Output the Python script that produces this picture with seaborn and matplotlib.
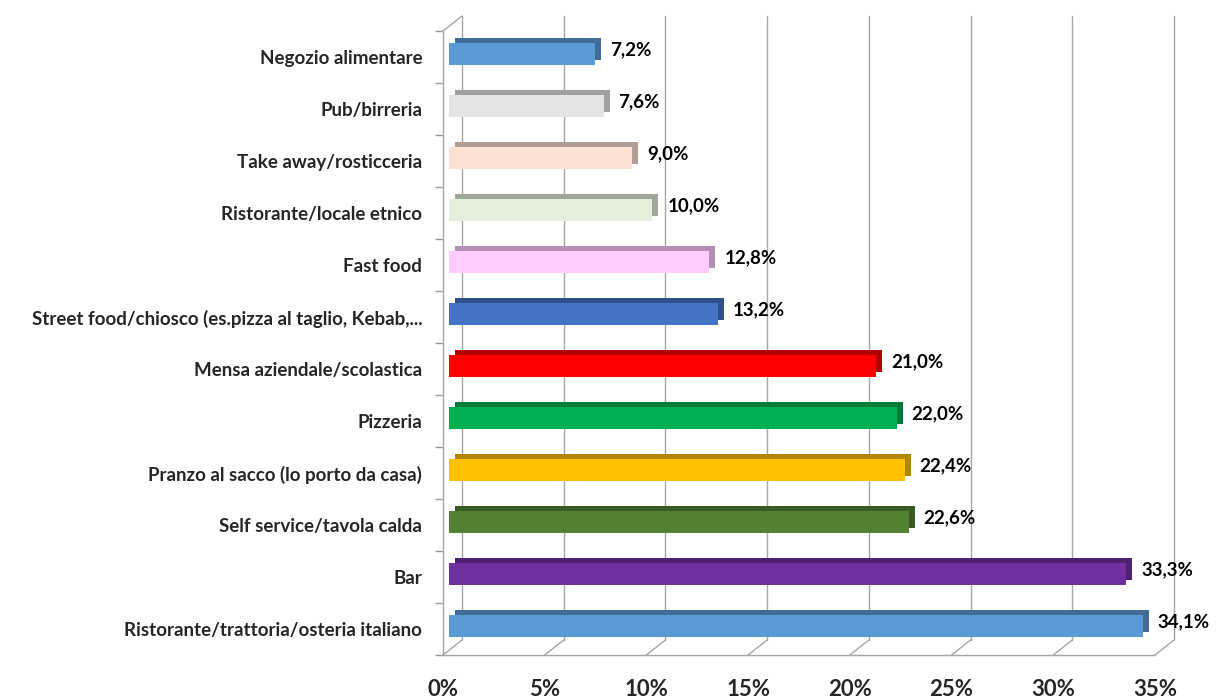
import numpy as np
import pandas as pd
import matplotlib
matplotlib.use("Agg")
import matplotlib.pyplot as plt
import matplotlib.transforms as mtransforms
import matplotlib.colors as mcolors
import seaborn as sns

categories = [
    "Negozio alimentare",
    "Pub/birreria",
    "Take away/rosticceria",
    "Ristorante/locale etnico",
    "Fast food",
    "Street food/chiosco (es.pizza al taglio, Kebab,...",
    "Mensa aziendale/scolastica",
    "Pizzeria",
    "Pranzo al sacco (lo porto da casa)",
    "Self service/tavola calda",
    "Bar",
    "Ristorante/trattoria/osteria italiano",
]
values = [7.2, 7.6, 9.0, 10.0, 12.8, 13.2, 21.0, 22.0, 22.4, 22.6, 33.3, 34.1]
colors = ["#5B9BD5", "#E4E4E4", "#FBE2D5", "#E2EFDA", "#FFCCFF", "#4472C4",
          "#FF0000", "#00B050", "#FFC000", "#548235", "#7030A0", "#5B9BD5"]
xticks = [0, 5, 10, 15, 20, 25, 30, 35]
xticklabels = ["0%", "5%", "10%", "15%", "20%", "25%", "30%", "35%"]

df = pd.DataFrame({"cat": categories, "val": values})

sns.set_theme(style="white")
plt.rcParams["font.family"] = ["Lato", "DejaVu Sans"]

fig = plt.figure(figsize=(12.18, 7.0), dpi=100)
ax = fig.add_axes([443 / 1218, 1 - 655 / 700, 712 / 1218, 624 / 700])

def darker(c, f=0.7):
    r, g, b = mcolors.to_rgb(c)
    return (r * f, g * f, b * f)

pal_dark = dict(zip(categories, [darker(c) for c in colors]))
pal = dict(zip(categories, colors))

# 3D-like depth face (shifted darker copy)
sns.barplot(data=df, x="val", y="cat", hue="cat", palette=pal_dark, legend=False,
            orient="h", width=0.44, ax=ax, saturation=1)
shift_back = mtransforms.ScaledTranslation(12 / 100, 8 / 100, fig.dpi_scale_trans)
n_back = len(ax.patches)
for p in ax.patches:
    p.set_transform(ax.transData + shift_back)
    p.set_edgecolor("none")
    p.set_zorder(2.9)

sns.barplot(data=df, x="val", y="cat", hue="cat", palette=pal, legend=False,
            orient="h", width=0.44, ax=ax, saturation=1)
shift_front = mtransforms.ScaledTranslation(6 / 100, 3 / 100, fig.dpi_scale_trans)
for p in ax.patches[n_back:]:
    p.set_transform(ax.transData + shift_front)
    p.set_edgecolor("none")
    p.set_zorder(3)

# value labels
for i, v in enumerate(values):
    ax.annotate(f"{v:.1f}".replace(".", ",") + "%", xy=(v, i), xycoords="data",
                xytext=(15, 5), textcoords="offset points", ha="left", va="center",
                fontsize=13.5, fontweight="bold", color="black", zorder=5)

ax.set_xlim(0, 35)
ax.set_ylim(11.5, -0.5)
ax.set_xticks(xticks)
ax.set_xticklabels(xticklabels, fontsize=16, fontweight="bold")
ax.tick_params(axis="x", length=0, pad=17)
ax.set_yticks(range(len(categories)))
ax.set_yticklabels(categories, fontsize=13.5, fontweight="bold")
ax.set_yticks(np.arange(-0.5, 12, 1), minor=True)
ax.tick_params(axis="y", which="major", length=0, pad=15)
ax.tick_params(axis="y", which="minor", length=6, color="#9A9A9A", width=1, left=True)
ax.set_xlabel("")
ax.set_ylabel("")

# back-wall gridlines
ax.grid(axis="x", color="#A6A6A6", linewidth=1)
ax.grid(axis="y", visible=False)
back = mtransforms.ScaledTranslation(19 / 100, 15 / 100, fig.dpi_scale_trans)
for gl in ax.get_xgridlines():
    gl.set_transform(gl.get_transform() + back)
    gl.set_clip_on(False)
    gl.set_zorder(0.5)
ax.set_axisbelow(True)

# depth diagonals
blend = mtransforms.blended_transform_factory(ax.transData, ax.transAxes)
for t in xticks:
    ax.annotate("", xy=(t, 0), xycoords=blend, xytext=(19 * 0.72, 15 * 0.72),
                textcoords="offset points",
                arrowprops=dict(arrowstyle="-", color="#A6A6A6", lw=1,
                                shrinkA=0, shrinkB=0), annotation_clip=False)
ax.annotate("", xy=(0, 1), xycoords="axes fraction", xytext=(19 * 0.72, 15 * 0.72),
            textcoords="offset points",
            arrowprops=dict(arrowstyle="-", color="#A6A6A6", lw=1,
                            shrinkA=0, shrinkB=0), annotation_clip=False)

for s in ["top", "right"]:
    ax.spines[s].set_visible(False)
for s in ["left", "bottom"]:
    ax.spines[s].set_color("#A6A6A6")
    ax.spines[s].set_linewidth(1)

fig.savefig("out.png", dpi=100)
